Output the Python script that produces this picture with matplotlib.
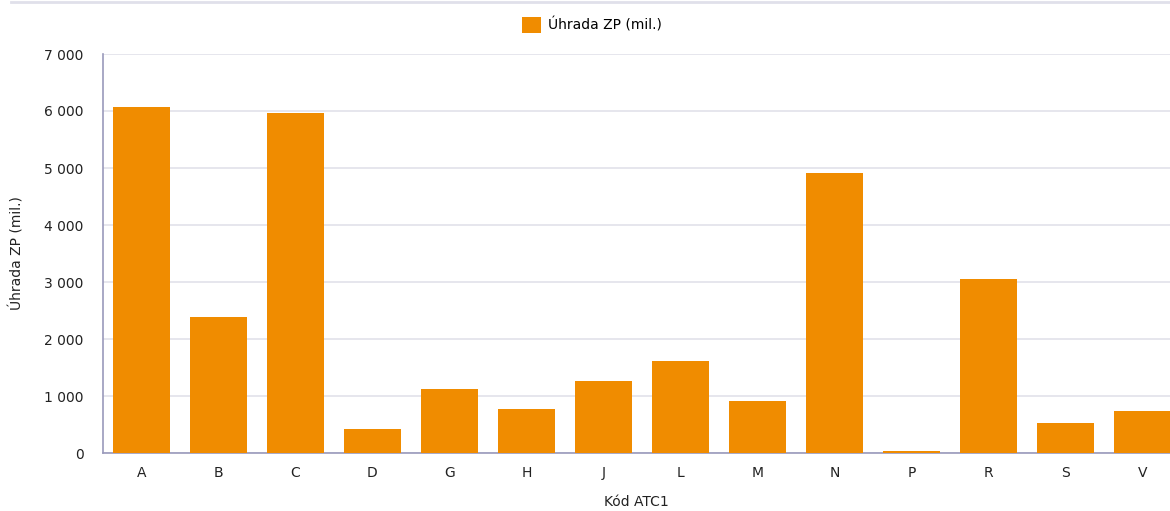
import numpy as np
import matplotlib.pyplot as plt

categories = ['A', 'B', 'C', 'D', 'G', 'H', 'J', 'L', 'M', 'N', 'P', 'R', 'S', 'V']
values = [6070, 2390, 5965, 420, 1125, 775, 1265, 1615, 915, 4910, 35, 3055, 530, 740]
yticks = [0, 1000, 2000, 3000, 4000, 5000, 6000, 7000]
ytick_labels = ['0', '1 000', '2 000', '3 000', '4 000', '5 000', '6 000', '7 000']

W, H = 1170, 511
fig = plt.figure(figsize=(W / 100, H / 100), dpi=100)
ax = fig.add_axes([103 / W, 1 - 453 / H, (1181 - 103) / W, (453 - 54) / H])

x = np.arange(len(categories))
ax.bar(x, values, width=0.75, color='#f08c00', label='Úhrada ZP (mil.)', zorder=3)

ax.set_xlim(-0.5, len(categories) - 0.5)
ax.set_ylim(0, 7000)
ax.set_yticks(yticks)
ax.set_yticklabels(ytick_labels)
ax.set_xticks(x)
ax.set_xticklabels(categories)
ax.tick_params(axis='both', length=0, labelsize=10, colors='#222222')
ax.tick_params(axis='x', pad=9)
ax.tick_params(axis='y', pad=14)
ax.grid(axis='y', color='#e2e2ea', linewidth=1.2, zorder=0)

for s in ['top', 'right']:
    ax.spines[s].set_visible(False)
ax.spines['left'].set_color('#9a9abb')
ax.spines['bottom'].set_color('#9a9abb')
ax.spines['left'].set_linewidth(1.2)
ax.spines['bottom'].set_linewidth(1.2)

fig.text(636 / W, 1 - 502 / H, 'Kód ATC1', fontsize=10, color='#222222',
         ha='center', va='center')
ax.set_ylabel('Úhrada ZP (mil.)', fontsize=10, color='#222222', labelpad=14)

fig.legend(loc='center', bbox_to_anchor=(592 / W, 1 - 25 / H), frameon=False,
           fontsize=10, handlelength=1.4, handleheight=1.4, handletextpad=0.5)

fig.add_artist(plt.Line2D([11 / W, 1], [1 - 2 / H, 1 - 2 / H], color='#e0e0ea', linewidth=2))

fig.savefig('out.png', dpi=100)
